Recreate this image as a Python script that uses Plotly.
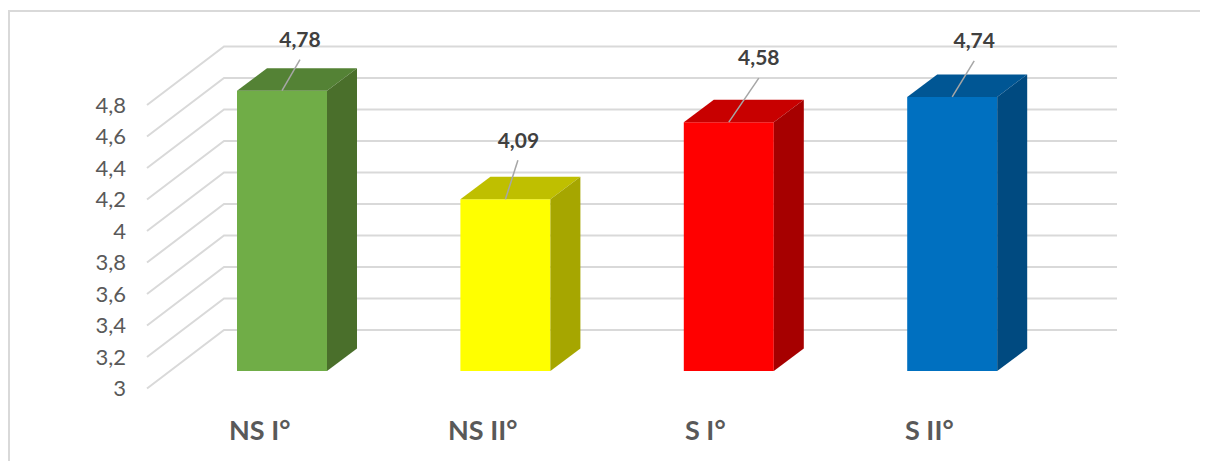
import plotly.graph_objects as go

categories = ["NS I°", "NS II°", "S I°", "S II°"]
values = [4.78, 4.09, 4.58, 4.74]
value_labels = ["4,78", "4,09", "4,58", "4,74"]
tick_values = [3, 3.2, 3.4, 3.6, 3.8, 4, 4.2, 4.4, 4.6, 4.8]
tick_labels = ["3", "3,2", "3,4", "3,6", "3,8", "4", "4,2", "4,4", "4,6", "4,8"]
front_colors = ["#70AD47", "#FFFF00", "#FF0000", "#0070C0"]
top_colors = ["#548235", "#BFBF00", "#C80000", "#005694"]
side_colors = ["#4A6F2B", "#A6A600", "#A60000", "#004A80"]

# the page adds an 8px margin, so the figure is 8px smaller than the window
PAGE = 8
W, H = 1208 - PAGE, 461 - PAGE
x_unit = 223.4
y_unit = 157.5
x_zero = 282 - PAGE
y_zero = 371 - PAGE
bar_w = 90 / x_unit
depth_x = 30 / x_unit
depth_y = 22.5 / y_unit
base = 3

x_range = [-x_zero / x_unit, (W - x_zero) / x_unit]
y_range = [base - (H - y_zero) / y_unit, base + y_zero / y_unit]

# value axis sits 17.5px below the bars' plane
axis_shift = 17.5 / y_unit
wall_shift = 41 / y_unit
wall_left = (147 - 282) / x_unit
wall_mid = (224 - 282) / x_unit
wall_right = (1117 - 282) / x_unit

# leader line ends and label centres, relative to the top of each bar (px)
leader_dx = [18, 12.5, 30, 22]
leader_dy = [31, 39, 44, 36]
label_dx = [18, 13, 30, 22]
label_dy = [49, 57, 62, 54]
cat_dx = -23

fig = go.Figure()

fig.add_trace(go.Bar(
    x=list(range(len(values))),
    y=[v - base for v in values],
    base=base,
    width=bar_w,
    marker=dict(color=front_colors, line_width=0),
    hoverinfo="skip",
))

for i, v in enumerate(values):
    l = i - bar_w / 2
    r = i + bar_w / 2
    fig.add_trace(go.Scatter(
        x=[l, r, r + depth_x, l + depth_x, l],
        y=[v, v, v + depth_y, v + depth_y, v],
        fill="toself", fillcolor=top_colors[i], mode="lines", line_width=0,
        hoverinfo="skip",
    ))
    fig.add_trace(go.Scatter(
        x=[r, r + depth_x, r + depth_x, r, r],
        y=[base, base + depth_y, v + depth_y, v, base],
        fill="toself", fillcolor=side_colors[i], mode="lines", line_width=0,
        hoverinfo="skip",
    ))
    fig.add_trace(go.Scatter(
        x=[i, i + leader_dx[i] / x_unit],
        y=[v, v + leader_dy[i] / y_unit],
        mode="lines", line=dict(color="#A6A6A6", width=1.5),
        hoverinfo="skip",
    ))
    fig.add_trace(go.Scatter(
        x=[i + label_dx[i] / x_unit],
        y=[v + label_dy[i] / y_unit],
        mode="text", text=[value_labels[i]], textposition="middle center",
        textfont=dict(family="Lato", size=21, color="#404040"),
        texttemplate="<b>%{text}</b>",
        hoverinfo="skip",
    ))

# keeps the tick label axis on the page
fig.add_trace(go.Scatter(
    x=[0], y=[base], yaxis="y2", mode="markers",
    marker=dict(opacity=0), hoverinfo="skip",
))

shapes = []
for t in tick_values:
    shapes.append(dict(
        type="path", layer="below", xref="x", yref="y",
        path="M {} {} L {} {} L {} {}".format(
            wall_left, t - axis_shift,
            wall_mid, t + wall_shift,
            wall_right, t + wall_shift),
        line=dict(color="#D9D9D9", width=2),
    ))
# chart frame, open on the right and at the bottom
shapes.append(dict(
    type="path", layer="below", xref="paper", yref="paper",
    path="M {} 0 L {} {} L 1 {}".format(1 / W, 1 / W, 1 - 3 / H, 1 - 3 / H),
    line=dict(color="#D9D9D9", width=2),
))

annotations = []
for i, c in enumerate(categories):
    annotations.append(dict(
        x=i + cat_dx / x_unit, y=base - 58 / y_unit,
        xref="x", yref="y", text="<b>{}</b>".format(c), showarrow=False,
        font=dict(family="Lato", size=27, color="#595959"),
    ))

fig.update_layout(
    width=W, height=H,
    margin=dict(l=0, r=0, t=0, b=0),
    autosize=False,
    showlegend=False,
    plot_bgcolor="white",
    paper_bgcolor="white",
    shapes=shapes,
    annotations=annotations,
    xaxis=dict(range=x_range, visible=False, fixedrange=True),
    yaxis=dict(range=y_range, visible=False, fixedrange=True),
    yaxis2=dict(
        range=[y_range[0] + axis_shift, y_range[1] + axis_shift],
        overlaying="y", anchor="free", position=118 / W, side="left",
        tickvals=tick_values, ticktext=tick_labels,
        tickfont=dict(family="Lato", size=22, color="#595959"),
        showgrid=False, zeroline=False, showline=False, ticks="",
        ticklen=0, fixedrange=True,
    ),
)

fig.write_html("out.html")
